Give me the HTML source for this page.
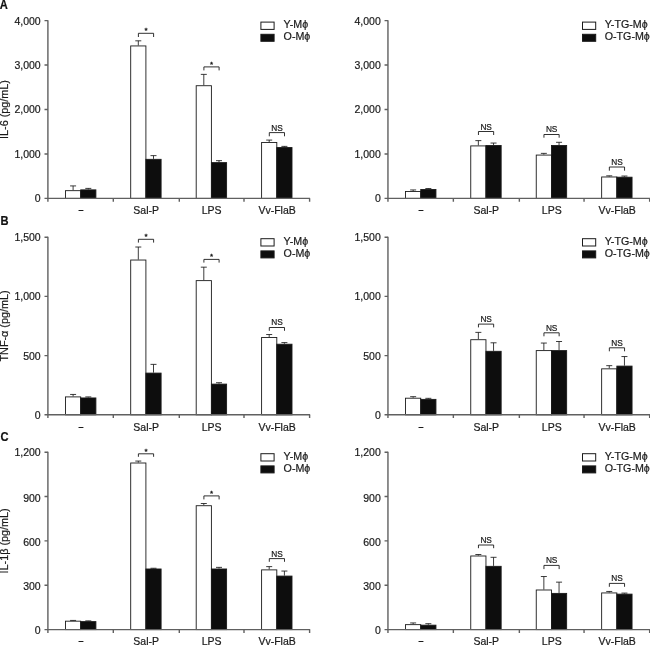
<!DOCTYPE html>
<html lang="en">
<head>
<meta charset="utf-8">
<title>Cytokine production in young and old macrophages</title>
<style>
html,body{margin:0;padding:0;background:#fff;}
body{width:650px;height:646px;overflow:hidden;}
svg{display:block;}
svg text{font-family:"Liberation Sans", Arial, Helvetica, sans-serif;font-size:10.5px;fill:#1a1a1a;stroke:#1a1a1a;stroke-width:0.2px;}
svg text.ns{font-size:8.3px;}
svg text.yl{font-size:10.8px;}
svg text.st{font-size:8px;stroke-width:0.35px;}
svg text.lg{font-size:10.7px;}
svg text.da{font-size:8px;stroke-width:0.3px;}
svg text.pl{font-size:12px;font-weight:bold;fill:#111;stroke:#111;stroke-width:0.2px;}
</style>
</head>
<body>
<svg width="650" height="646" viewBox="0 0 650 646">
<rect width="650" height="646" fill="#fff"/>
<text transform="translate(-0.2 9.10) scale(0.93 1)" class="pl">A</text>
<text transform="translate(8.1 109.50) rotate(-90)" text-anchor="middle" class="yl">IL-6 (pg/mL)</text>
<path d="M73.10 190.22V185.91M70.10 185.91H76.10" stroke="#1a1a1a" stroke-width="0.85" fill="none"/>
<rect x="65.50" y="190.67" width="15.20" height="7.73" fill="#fff" stroke="#1a1a1a" stroke-width="0.9"/>
<path d="M88.30 189.42V188.40M85.30 188.40H91.30" stroke="#1a1a1a" stroke-width="0.85" fill="none"/>
<rect x="80.70" y="189.87" width="15.20" height="8.53" fill="#0d0d0d" stroke="#1a1a1a" stroke-width="0.9"/>
<path d="M138.30 45.49V40.82M135.30 40.82H141.30" stroke="#1a1a1a" stroke-width="0.85" fill="none"/>
<rect x="130.70" y="45.94" width="15.20" height="152.46" fill="#fff" stroke="#1a1a1a" stroke-width="0.9"/>
<path d="M153.50 158.88V155.64M150.50 155.64H156.50" stroke="#1a1a1a" stroke-width="0.85" fill="none"/>
<rect x="145.90" y="159.33" width="15.20" height="39.07" fill="#0d0d0d" stroke="#1a1a1a" stroke-width="0.9"/>
<path d="M203.80 85.27V74.38M200.80 74.38H206.80" stroke="#1a1a1a" stroke-width="0.85" fill="none"/>
<rect x="196.20" y="85.72" width="15.20" height="112.68" fill="#fff" stroke="#1a1a1a" stroke-width="0.9"/>
<path d="M219.00 162.17V160.66M216.00 160.66H222.00" stroke="#1a1a1a" stroke-width="0.85" fill="none"/>
<rect x="211.40" y="162.62" width="15.20" height="35.78" fill="#0d0d0d" stroke="#1a1a1a" stroke-width="0.9"/>
<path d="M269.20 142.08V140.08M266.20 140.08H272.20" stroke="#1a1a1a" stroke-width="0.85" fill="none"/>
<rect x="261.60" y="142.53" width="15.20" height="55.87" fill="#fff" stroke="#1a1a1a" stroke-width="0.9"/>
<path d="M284.40 147.10V146.39M281.40 146.39H287.40" stroke="#1a1a1a" stroke-width="0.85" fill="none"/>
<rect x="276.80" y="147.55" width="15.20" height="50.85" fill="#0d0d0d" stroke="#1a1a1a" stroke-width="0.9"/>
<path d="M47.90 20.20V201.70M44.50 198.40H310.10" stroke="#606060" stroke-width="1.4" fill="none"/>
<text x="40.70" y="202" text-anchor="end">0</text>
<text x="40.70" y="158" text-anchor="end">1,000</text>
<text x="40.70" y="113" text-anchor="end">2,000</text>
<text x="40.70" y="69" text-anchor="end">3,000</text>
<text x="40.70" y="25" text-anchor="end">4,000</text>
<path d="M44.50 153.95H47.90M44.50 109.50H47.90M44.50 65.05H47.90M44.50 20.60H47.90M113.30 198.40V201.70M179.30 198.40V201.70M244.00 198.40V201.70M309.60 198.40V201.70" stroke="#606060" stroke-width="1.4" fill="none"/>
<text x="80.90" y="212.10" text-anchor="middle" class="da">–</text>
<text x="146.20" y="214.20" text-anchor="middle">Sal-P</text>
<text x="211.70" y="214.20" text-anchor="middle">LPS</text>
<text x="277.10" y="214.20" text-anchor="middle">Vv-FlaB</text>
<path d="M138.40 37.00V33.30H153.60V37.00" stroke="#1a1a1a" stroke-width="0.9" fill="none"/>
<text x="146.10" y="32.70" text-anchor="middle" class="st">*</text>
<path d="M203.90 70.40V66.90H219.10V70.40" stroke="#1a1a1a" stroke-width="0.9" fill="none"/>
<text x="211.60" y="66.50" text-anchor="middle" class="st">*</text>
<path d="M269.30 136.30V132.60H284.50V136.30" stroke="#1a1a1a" stroke-width="0.9" fill="none"/>
<text x="277.00" y="130.60" text-anchor="middle" class="ns">NS</text>
<rect x="260.90" y="22.10" width="13.2" height="7.3" fill="#fff" stroke="#1a1a1a" stroke-width="1"/>
<rect x="260.90" y="34.30" width="13.2" height="7.0" fill="#0d0d0d" stroke="#1a1a1a" stroke-width="1"/>
<text x="283.60" y="28" class="lg">Y-Mϕ</text>
<text x="283.60" y="40" class="lg">O-Mϕ</text>
<path d="M413.15 191.02V189.95M410.15 189.95H416.15" stroke="#1a1a1a" stroke-width="0.85" fill="none"/>
<rect x="405.55" y="191.47" width="15.20" height="6.93" fill="#fff" stroke="#1a1a1a" stroke-width="0.9"/>
<path d="M428.35 189.02V188.53M425.35 188.53H431.35" stroke="#1a1a1a" stroke-width="0.85" fill="none"/>
<rect x="420.75" y="189.47" width="15.20" height="8.93" fill="#0d0d0d" stroke="#1a1a1a" stroke-width="0.9"/>
<path d="M478.35 145.46V140.62M475.35 140.62H481.35" stroke="#1a1a1a" stroke-width="0.85" fill="none"/>
<rect x="470.75" y="145.91" width="15.20" height="52.49" fill="#fff" stroke="#1a1a1a" stroke-width="0.9"/>
<path d="M493.55 145.06V143.06M490.55 143.06H496.55" stroke="#1a1a1a" stroke-width="0.85" fill="none"/>
<rect x="485.95" y="145.51" width="15.20" height="52.89" fill="#0d0d0d" stroke="#1a1a1a" stroke-width="0.9"/>
<path d="M543.85 154.62V153.37M540.85 153.37H546.85" stroke="#1a1a1a" stroke-width="0.85" fill="none"/>
<rect x="536.25" y="155.07" width="15.20" height="43.33" fill="#fff" stroke="#1a1a1a" stroke-width="0.9"/>
<path d="M559.05 145.06V142.30M556.05 142.30H562.05" stroke="#1a1a1a" stroke-width="0.85" fill="none"/>
<rect x="551.45" y="145.51" width="15.20" height="52.89" fill="#0d0d0d" stroke="#1a1a1a" stroke-width="0.9"/>
<path d="M609.25 176.53V175.82M606.25 175.82H612.25" stroke="#1a1a1a" stroke-width="0.85" fill="none"/>
<rect x="601.65" y="176.98" width="15.20" height="21.42" fill="#fff" stroke="#1a1a1a" stroke-width="0.9"/>
<path d="M624.45 176.75V176.04M621.45 176.04H627.45" stroke="#1a1a1a" stroke-width="0.85" fill="none"/>
<rect x="616.85" y="177.20" width="15.20" height="21.20" fill="#0d0d0d" stroke="#1a1a1a" stroke-width="0.9"/>
<path d="M387.95 20.20V201.70M384.55 198.40H650.15" stroke="#606060" stroke-width="1.4" fill="none"/>
<text x="380.75" y="202" text-anchor="end">0</text>
<text x="380.75" y="158" text-anchor="end">1,000</text>
<text x="380.75" y="113" text-anchor="end">2,000</text>
<text x="380.75" y="69" text-anchor="end">3,000</text>
<text x="380.75" y="25" text-anchor="end">4,000</text>
<path d="M384.55 153.95H387.95M384.55 109.50H387.95M384.55 65.05H387.95M384.55 20.60H387.95M453.35 198.40V201.70M519.35 198.40V201.70M584.05 198.40V201.70M649.65 198.40V201.70" stroke="#606060" stroke-width="1.4" fill="none"/>
<text x="420.95" y="212.10" text-anchor="middle" class="da">–</text>
<text x="486.25" y="214.20" text-anchor="middle">Sal-P</text>
<text x="551.75" y="214.20" text-anchor="middle">LPS</text>
<text x="617.15" y="214.20" text-anchor="middle">Vv-FlaB</text>
<path d="M478.45 135.00V131.50H493.65V135.00" stroke="#1a1a1a" stroke-width="0.9" fill="none"/>
<text x="486.15" y="129.50" text-anchor="middle" class="ns">NS</text>
<path d="M543.95 137.70V134.50H559.15V137.70" stroke="#1a1a1a" stroke-width="0.9" fill="none"/>
<text x="551.65" y="132.00" text-anchor="middle" class="ns">NS</text>
<path d="M609.35 170.70V167.00H624.55V170.70" stroke="#1a1a1a" stroke-width="0.9" fill="none"/>
<text x="617.05" y="164.80" text-anchor="middle" class="ns">NS</text>
<rect x="582.50" y="22.10" width="13.2" height="7.3" fill="#fff" stroke="#1a1a1a" stroke-width="1"/>
<rect x="582.50" y="34.30" width="13.2" height="7.0" fill="#0d0d0d" stroke="#1a1a1a" stroke-width="1"/>
<text x="604.70" y="28" class="lg">Y-TG-Mϕ</text>
<text x="604.70" y="40" class="lg">O-TG-Mϕ</text>
<text transform="translate(0.6 225.40) scale(0.93 1)" class="pl">B</text>
<text transform="translate(8.1 326.00) rotate(-90)" text-anchor="middle" class="yl">TNF-α (pg/mL)</text>
<path d="M73.10 396.45V394.44M70.10 394.44H76.10" stroke="#1a1a1a" stroke-width="0.85" fill="none"/>
<rect x="65.50" y="396.90" width="15.20" height="17.90" fill="#fff" stroke="#1a1a1a" stroke-width="0.9"/>
<path d="M88.30 397.51V396.92M85.30 396.92H91.30" stroke="#1a1a1a" stroke-width="0.85" fill="none"/>
<rect x="80.70" y="397.96" width="15.20" height="16.84" fill="#0d0d0d" stroke="#1a1a1a" stroke-width="0.9"/>
<path d="M138.30 259.58V247.03M135.30 247.03H141.30" stroke="#1a1a1a" stroke-width="0.85" fill="none"/>
<rect x="130.70" y="260.03" width="15.20" height="154.77" fill="#fff" stroke="#1a1a1a" stroke-width="0.9"/>
<path d="M153.50 372.65V364.36M150.50 364.36H156.50" stroke="#1a1a1a" stroke-width="0.85" fill="none"/>
<rect x="145.90" y="373.10" width="15.20" height="41.70" fill="#0d0d0d" stroke="#1a1a1a" stroke-width="0.9"/>
<path d="M203.80 280.18V267.16M200.80 267.16H206.80" stroke="#1a1a1a" stroke-width="0.85" fill="none"/>
<rect x="196.20" y="280.63" width="15.20" height="134.17" fill="#fff" stroke="#1a1a1a" stroke-width="0.9"/>
<path d="M219.00 383.66V382.71M216.00 382.71H222.00" stroke="#1a1a1a" stroke-width="0.85" fill="none"/>
<rect x="211.40" y="384.11" width="15.20" height="30.69" fill="#0d0d0d" stroke="#1a1a1a" stroke-width="0.9"/>
<path d="M269.20 337.01V334.52M266.20 334.52H272.20" stroke="#1a1a1a" stroke-width="0.85" fill="none"/>
<rect x="261.60" y="337.46" width="15.20" height="77.34" fill="#fff" stroke="#1a1a1a" stroke-width="0.9"/>
<path d="M284.40 343.76V342.58M281.40 342.58H287.40" stroke="#1a1a1a" stroke-width="0.85" fill="none"/>
<rect x="276.80" y="344.21" width="15.20" height="70.59" fill="#0d0d0d" stroke="#1a1a1a" stroke-width="0.9"/>
<path d="M47.90 236.80V418.10M44.50 414.80H310.10" stroke="#606060" stroke-width="1.4" fill="none"/>
<text x="40.70" y="419" text-anchor="end">0</text>
<text x="40.70" y="360" text-anchor="end">500</text>
<text x="40.70" y="300" text-anchor="end">1,000</text>
<text x="40.70" y="241" text-anchor="end">1,500</text>
<path d="M44.50 355.60H47.90M44.50 296.40H47.90M44.50 237.20H47.90M113.30 414.80V418.10M179.30 414.80V418.10M244.00 414.80V418.10M309.60 414.80V418.10" stroke="#606060" stroke-width="1.4" fill="none"/>
<text x="80.90" y="428.50" text-anchor="middle" class="da">–</text>
<text x="146.20" y="430.60" text-anchor="middle">Sal-P</text>
<text x="211.70" y="430.60" text-anchor="middle">LPS</text>
<text x="277.10" y="430.60" text-anchor="middle">Vv-FlaB</text>
<path d="M138.40 242.60V239.30H153.60V242.60" stroke="#1a1a1a" stroke-width="0.9" fill="none"/>
<text x="146.10" y="238.90" text-anchor="middle" class="st">*</text>
<path d="M203.90 262.60V259.40H219.10V262.60" stroke="#1a1a1a" stroke-width="0.9" fill="none"/>
<text x="211.60" y="259.10" text-anchor="middle" class="st">*</text>
<path d="M269.30 330.80V327.50H284.50V330.80" stroke="#1a1a1a" stroke-width="0.9" fill="none"/>
<text x="277.00" y="325.20" text-anchor="middle" class="ns">NS</text>
<rect x="260.90" y="238.70" width="13.2" height="7.3" fill="#fff" stroke="#1a1a1a" stroke-width="1"/>
<rect x="260.90" y="250.90" width="13.2" height="7.0" fill="#0d0d0d" stroke="#1a1a1a" stroke-width="1"/>
<text x="283.60" y="245" class="lg">Y-Mϕ</text>
<text x="283.60" y="257" class="lg">O-Mϕ</text>
<path d="M413.15 397.75V396.68M410.15 396.68H416.15" stroke="#1a1a1a" stroke-width="0.85" fill="none"/>
<rect x="405.55" y="398.20" width="15.20" height="16.60" fill="#fff" stroke="#1a1a1a" stroke-width="0.9"/>
<path d="M428.35 398.93V398.34M425.35 398.34H431.35" stroke="#1a1a1a" stroke-width="0.85" fill="none"/>
<rect x="420.75" y="399.38" width="15.20" height="15.42" fill="#0d0d0d" stroke="#1a1a1a" stroke-width="0.9"/>
<path d="M478.35 339.26V332.39M475.35 332.39H481.35" stroke="#1a1a1a" stroke-width="0.85" fill="none"/>
<rect x="470.75" y="339.71" width="15.20" height="75.09" fill="#fff" stroke="#1a1a1a" stroke-width="0.9"/>
<path d="M493.55 350.86V342.81M490.55 342.81H496.55" stroke="#1a1a1a" stroke-width="0.85" fill="none"/>
<rect x="485.95" y="351.31" width="15.20" height="63.49" fill="#0d0d0d" stroke="#1a1a1a" stroke-width="0.9"/>
<path d="M543.85 350.15V343.05M540.85 343.05H546.85" stroke="#1a1a1a" stroke-width="0.85" fill="none"/>
<rect x="536.25" y="350.60" width="15.20" height="64.20" fill="#fff" stroke="#1a1a1a" stroke-width="0.9"/>
<path d="M559.05 350.15V341.51M556.05 341.51H562.05" stroke="#1a1a1a" stroke-width="0.85" fill="none"/>
<rect x="551.45" y="350.60" width="15.20" height="64.20" fill="#0d0d0d" stroke="#1a1a1a" stroke-width="0.9"/>
<path d="M609.25 368.39V365.66M606.25 365.66H612.25" stroke="#1a1a1a" stroke-width="0.85" fill="none"/>
<rect x="601.65" y="368.84" width="15.20" height="45.96" fill="#fff" stroke="#1a1a1a" stroke-width="0.9"/>
<path d="M624.45 365.66V356.55M621.45 356.55H627.45" stroke="#1a1a1a" stroke-width="0.85" fill="none"/>
<rect x="616.85" y="366.11" width="15.20" height="48.69" fill="#0d0d0d" stroke="#1a1a1a" stroke-width="0.9"/>
<path d="M387.95 236.80V418.10M384.55 414.80H650.15" stroke="#606060" stroke-width="1.4" fill="none"/>
<text x="380.75" y="419" text-anchor="end">0</text>
<text x="380.75" y="360" text-anchor="end">500</text>
<text x="380.75" y="300" text-anchor="end">1,000</text>
<text x="380.75" y="241" text-anchor="end">1,500</text>
<path d="M384.55 355.60H387.95M384.55 296.40H387.95M384.55 237.20H387.95M453.35 414.80V418.10M519.35 414.80V418.10M584.05 414.80V418.10M649.65 414.80V418.10" stroke="#606060" stroke-width="1.4" fill="none"/>
<text x="420.95" y="428.50" text-anchor="middle" class="da">–</text>
<text x="486.25" y="430.60" text-anchor="middle">Sal-P</text>
<text x="551.75" y="430.60" text-anchor="middle">LPS</text>
<text x="617.15" y="430.60" text-anchor="middle">Vv-FlaB</text>
<path d="M478.45 327.40V324.10H493.65V327.40" stroke="#1a1a1a" stroke-width="0.9" fill="none"/>
<text x="486.15" y="321.60" text-anchor="middle" class="ns">NS</text>
<path d="M543.95 336.30V332.80H559.15V336.30" stroke="#1a1a1a" stroke-width="0.9" fill="none"/>
<text x="551.65" y="330.80" text-anchor="middle" class="ns">NS</text>
<path d="M609.35 351.30V347.80H624.55V351.30" stroke="#1a1a1a" stroke-width="0.9" fill="none"/>
<text x="617.05" y="345.60" text-anchor="middle" class="ns">NS</text>
<rect x="582.50" y="238.70" width="13.2" height="7.3" fill="#fff" stroke="#1a1a1a" stroke-width="1"/>
<rect x="582.50" y="250.90" width="13.2" height="7.0" fill="#0d0d0d" stroke="#1a1a1a" stroke-width="1"/>
<text x="604.70" y="245" class="lg">Y-TG-Mϕ</text>
<text x="604.70" y="257" class="lg">O-TG-Mϕ</text>
<text transform="translate(0.4 440.90) scale(0.93 1)" class="pl">C</text>
<text transform="translate(8.1 540.90) rotate(-90)" text-anchor="middle" class="yl">IL-1β (pg/mL)</text>
<path d="M73.10 620.73V620.43M70.10 620.43H76.10" stroke="#1a1a1a" stroke-width="0.85" fill="none"/>
<rect x="65.50" y="621.18" width="15.20" height="8.42" fill="#fff" stroke="#1a1a1a" stroke-width="0.9"/>
<path d="M88.30 621.17V620.88M85.30 620.88H91.30" stroke="#1a1a1a" stroke-width="0.85" fill="none"/>
<rect x="80.70" y="621.62" width="15.20" height="7.98" fill="#0d0d0d" stroke="#1a1a1a" stroke-width="0.9"/>
<path d="M138.30 462.55V461.07M135.30 461.07H141.30" stroke="#1a1a1a" stroke-width="0.85" fill="none"/>
<rect x="130.70" y="463.00" width="15.20" height="166.60" fill="#fff" stroke="#1a1a1a" stroke-width="0.9"/>
<path d="M153.50 568.54V568.25M150.50 568.25H156.50" stroke="#1a1a1a" stroke-width="0.85" fill="none"/>
<rect x="145.90" y="568.99" width="15.20" height="60.61" fill="#0d0d0d" stroke="#1a1a1a" stroke-width="0.9"/>
<path d="M203.80 505.27V503.50M200.80 503.50H206.80" stroke="#1a1a1a" stroke-width="0.85" fill="none"/>
<rect x="196.20" y="505.72" width="15.20" height="123.88" fill="#fff" stroke="#1a1a1a" stroke-width="0.9"/>
<path d="M219.00 568.54V567.36M216.00 567.36H222.00" stroke="#1a1a1a" stroke-width="0.85" fill="none"/>
<rect x="211.40" y="568.99" width="15.20" height="60.61" fill="#0d0d0d" stroke="#1a1a1a" stroke-width="0.9"/>
<path d="M269.20 569.43V566.62M266.20 566.62H272.20" stroke="#1a1a1a" stroke-width="0.85" fill="none"/>
<rect x="261.60" y="569.88" width="15.20" height="59.72" fill="#fff" stroke="#1a1a1a" stroke-width="0.9"/>
<path d="M284.40 575.64V571.06M281.40 571.06H287.40" stroke="#1a1a1a" stroke-width="0.85" fill="none"/>
<rect x="276.80" y="576.09" width="15.20" height="53.51" fill="#0d0d0d" stroke="#1a1a1a" stroke-width="0.9"/>
<path d="M47.90 451.80V632.90M44.50 629.60H310.10" stroke="#606060" stroke-width="1.4" fill="none"/>
<text x="40.70" y="634" text-anchor="end">0</text>
<text x="40.70" y="590" text-anchor="end">300</text>
<text x="40.70" y="546" text-anchor="end">600</text>
<text x="40.70" y="502" text-anchor="end">900</text>
<text x="40.70" y="456" text-anchor="end">1,200</text>
<path d="M44.50 585.25H47.90M44.50 540.90H47.90M44.50 496.55H47.90M44.50 452.20H47.90M113.30 629.60V632.90M179.30 629.60V632.90M244.00 629.60V632.90M309.60 629.60V632.90" stroke="#606060" stroke-width="1.4" fill="none"/>
<text x="80.90" y="643.30" text-anchor="middle" class="da">–</text>
<text x="146.20" y="645.40" text-anchor="middle">Sal-P</text>
<text x="211.70" y="645.40" text-anchor="middle">LPS</text>
<text x="277.10" y="645.40" text-anchor="middle">Vv-FlaB</text>
<path d="M138.40 456.80V453.80H153.60V456.80" stroke="#1a1a1a" stroke-width="0.9" fill="none"/>
<text x="146.10" y="453.50" text-anchor="middle" class="st">*</text>
<path d="M203.90 499.40V495.90H219.10V499.40" stroke="#1a1a1a" stroke-width="0.9" fill="none"/>
<text x="211.60" y="495.70" text-anchor="middle" class="st">*</text>
<path d="M269.30 561.80V558.60H284.50V561.80" stroke="#1a1a1a" stroke-width="0.9" fill="none"/>
<text x="277.00" y="556.60" text-anchor="middle" class="ns">NS</text>
<rect x="260.90" y="453.70" width="13.2" height="7.3" fill="#fff" stroke="#1a1a1a" stroke-width="1"/>
<rect x="260.90" y="465.90" width="13.2" height="7.0" fill="#0d0d0d" stroke="#1a1a1a" stroke-width="1"/>
<text x="283.60" y="460" class="lg">Y-Mϕ</text>
<text x="283.60" y="472" class="lg">O-Mϕ</text>
<path d="M413.15 624.20V622.95M410.15 622.95H416.15" stroke="#1a1a1a" stroke-width="0.85" fill="none"/>
<rect x="405.55" y="624.65" width="15.20" height="4.95" fill="#fff" stroke="#1a1a1a" stroke-width="0.9"/>
<path d="M428.35 624.72V623.69M425.35 623.69H431.35" stroke="#1a1a1a" stroke-width="0.85" fill="none"/>
<rect x="420.75" y="625.17" width="15.20" height="4.43" fill="#0d0d0d" stroke="#1a1a1a" stroke-width="0.9"/>
<path d="M478.35 555.54V554.50M475.35 554.50H481.35" stroke="#1a1a1a" stroke-width="0.85" fill="none"/>
<rect x="470.75" y="555.99" width="15.20" height="73.61" fill="#fff" stroke="#1a1a1a" stroke-width="0.9"/>
<path d="M493.55 565.88V557.31M490.55 557.31H496.55" stroke="#1a1a1a" stroke-width="0.85" fill="none"/>
<rect x="485.95" y="566.33" width="15.20" height="63.27" fill="#0d0d0d" stroke="#1a1a1a" stroke-width="0.9"/>
<path d="M543.85 589.54V576.53M540.85 576.53H546.85" stroke="#1a1a1a" stroke-width="0.85" fill="none"/>
<rect x="536.25" y="589.99" width="15.20" height="39.61" fill="#fff" stroke="#1a1a1a" stroke-width="0.9"/>
<path d="M559.05 592.94V582.15M556.05 582.15H562.05" stroke="#1a1a1a" stroke-width="0.85" fill="none"/>
<rect x="551.45" y="593.39" width="15.20" height="36.21" fill="#0d0d0d" stroke="#1a1a1a" stroke-width="0.9"/>
<path d="M609.25 592.49V591.46M606.25 591.46H612.25" stroke="#1a1a1a" stroke-width="0.85" fill="none"/>
<rect x="601.65" y="592.94" width="15.20" height="36.66" fill="#fff" stroke="#1a1a1a" stroke-width="0.9"/>
<path d="M624.45 593.68V593.09M621.45 593.09H627.45" stroke="#1a1a1a" stroke-width="0.85" fill="none"/>
<rect x="616.85" y="594.13" width="15.20" height="35.47" fill="#0d0d0d" stroke="#1a1a1a" stroke-width="0.9"/>
<path d="M387.95 451.80V632.90M384.55 629.60H650.15" stroke="#606060" stroke-width="1.4" fill="none"/>
<text x="380.75" y="634" text-anchor="end">0</text>
<text x="380.75" y="590" text-anchor="end">300</text>
<text x="380.75" y="546" text-anchor="end">600</text>
<text x="380.75" y="502" text-anchor="end">900</text>
<text x="380.75" y="456" text-anchor="end">1,200</text>
<path d="M384.55 585.25H387.95M384.55 540.90H387.95M384.55 496.55H387.95M384.55 452.20H387.95M453.35 629.60V632.90M519.35 629.60V632.90M584.05 629.60V632.90M649.65 629.60V632.90" stroke="#606060" stroke-width="1.4" fill="none"/>
<text x="420.95" y="643.30" text-anchor="middle" class="da">–</text>
<text x="486.25" y="645.40" text-anchor="middle">Sal-P</text>
<text x="551.75" y="645.40" text-anchor="middle">LPS</text>
<text x="617.15" y="645.40" text-anchor="middle">Vv-FlaB</text>
<path d="M478.45 548.20V545.00H493.65V548.20" stroke="#1a1a1a" stroke-width="0.9" fill="none"/>
<text x="486.15" y="543.20" text-anchor="middle" class="ns">NS</text>
<path d="M543.95 569.10V565.40H559.15V569.10" stroke="#1a1a1a" stroke-width="0.9" fill="none"/>
<text x="551.65" y="563.40" text-anchor="middle" class="ns">NS</text>
<path d="M609.35 586.80V583.40H624.55V586.80" stroke="#1a1a1a" stroke-width="0.9" fill="none"/>
<text x="617.05" y="580.90" text-anchor="middle" class="ns">NS</text>
<rect x="582.50" y="453.70" width="13.2" height="7.3" fill="#fff" stroke="#1a1a1a" stroke-width="1"/>
<rect x="582.50" y="465.90" width="13.2" height="7.0" fill="#0d0d0d" stroke="#1a1a1a" stroke-width="1"/>
<text x="604.70" y="460" class="lg">Y-TG-Mϕ</text>
<text x="604.70" y="472" class="lg">O-TG-Mϕ</text>
</svg>
</body>
</html>
